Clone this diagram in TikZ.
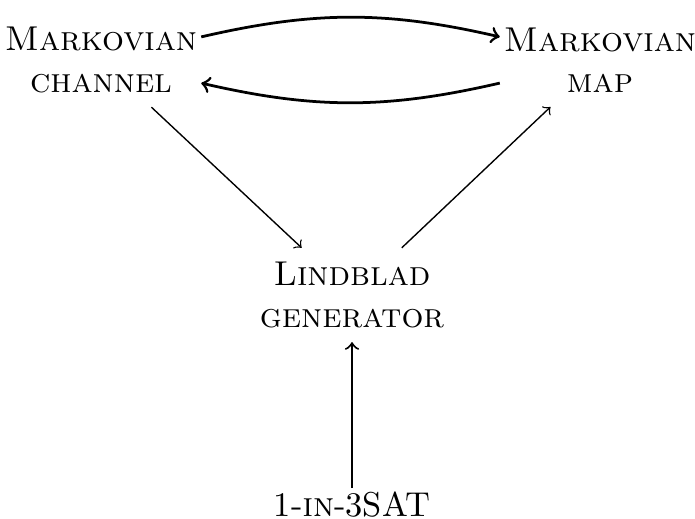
\documentclass[tikz,border=0pt]{standalone}
\usepackage{amsmath}
\usepackage{xcolor}
\usepackage{amssymb}
\usepackage{tikz}

\begin{document}
\begin{tikzpicture}[x=0.29pt,y=0.29pt,yscale=-1,xscale=1]
\useasboundingbox (0,0) rectangle (695,519);
\tikzset{every node/.style={align=center,inner xsep=1pt,inner ysep=4pt}}
\node (chan) at (101,60) {\textsc{Markovian}\\\textsc{channel}};
\node (map) at (600,60) {\textsc{Markovian}\\\textsc{map}};
\node (gen) at (352,295) {\textsc{Lindblad}\\\textsc{generator}};
\node [inner ysep=1pt] (sat) at (352,505) {1-\textsc{in}-3SAT};
\draw [->,thick] (chan) to [bend right=13] (map);
\draw [->,thick] (map) to [bend right=13] (chan);
\draw [->] (chan) -- (gen);
\draw [->] (gen) -- (map);
\draw [->,semithick] (sat) -- (gen);
\end{tikzpicture}
\end{document}
